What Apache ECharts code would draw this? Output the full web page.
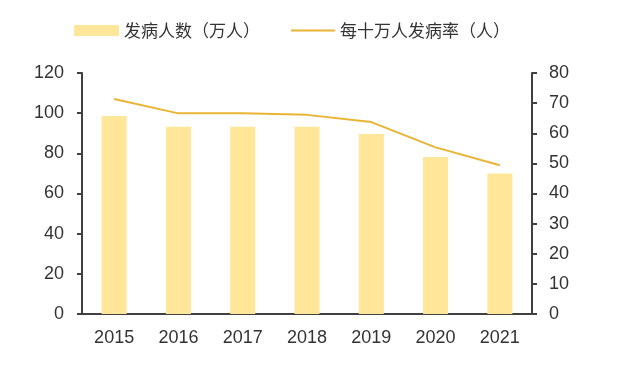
<!DOCTYPE html>
<html><head><meta charset="utf-8">
<script src="https://cdn.jsdelivr.net/npm/echarts@6/dist/echarts.min.js"></script>
<style>html,body{margin:0;padding:0;background:#fff}#c{width:624px;height:367px}</style>
</head><body><div id="c"></div>
<script>
const years = ['2015','2016','2017','2018','2019','2020','2021'];
const cases = [98.6, 93.2, 93.2, 93.2, 89.6, 78.2, 70.0];
const rate = [71.4, 66.6, 66.6, 66.1, 63.7, 55.3, 49.4];
const leftTicks = [0, 20, 40, 60, 80, 100, 120];
const rightTicks = [0, 10, 20, 30, 40, 50, 60, 70, 80];

const axisColor = '#404040';
const labelFont = {fontFamily: 'Liberation Sans', fontSize: 18, color: '#333'};
const chart = echarts.init(document.getElementById('c'));
chart.setOption({
  animation: false,
  legend: [{
    left: 69, top: 17, itemWidth: 45, itemHeight: 11, itemGap: 8,
    icon: 'rect',
    textStyle: {fontFamily: 'Noto Sans CJK SC', fontSize: 17, color: '#333'},
    data: ['发病人数（万人）']
  }, {
    left: 286, top: 17, itemWidth: 44, itemHeight: 2, itemGap: 8,
    icon: 'rect',
    textStyle: {fontFamily: 'Noto Sans CJK SC', fontSize: 17, color: '#333'},
    data: ['每十万人发病率（人）']
  }],
  grid: {left: 82, right: 92, top: 73, bottom: 53},
  xAxis: {
    type: 'category', data: years,
    axisLine: {lineStyle: {color: axisColor, width: 2}},
    axisTick: {length: 5, lineStyle: {color: axisColor, width: 2}},
    axisLabel: Object.assign({margin: 15}, labelFont)
  },
  yAxis: [{
    type: 'value', min: 0, max: 120, interval: 20,
    axisLine: {show: true, lineStyle: {color: axisColor, width: 2}},
    axisTick: {show: true, length: 5, lineStyle: {color: axisColor, width: 2}},
    splitLine: {show: false},
    axisLabel: Object.assign({margin: 18, formatter: v => leftTicks.includes(v) ? String(v) : ''}, labelFont)
  }, {
    type: 'value', min: 0, max: 80, interval: 10, position: 'right',
    axisLine: {show: true, lineStyle: {color: axisColor, width: 2}},
    axisTick: {show: true, length: 5, lineStyle: {color: axisColor, width: 2}},
    splitLine: {show: false},
    axisLabel: Object.assign({margin: 17, formatter: v => rightTicks.includes(v) ? String(v) : ''}, labelFont)
  }],
  series: [{
    name: '发病人数（万人）', type: 'bar', data: cases, yAxisIndex: 0,
    barWidth: 25, itemStyle: {color: '#FFE699'}
  }, {
    name: '每十万人发病率（人）', type: 'line', data: rate, yAxisIndex: 1,
    showSymbol: false, symbol: 'none',
    lineStyle: {color: '#E9B434', width: 2}, itemStyle: {color: '#E9B434'}
  }]
});
</script></body></html>
